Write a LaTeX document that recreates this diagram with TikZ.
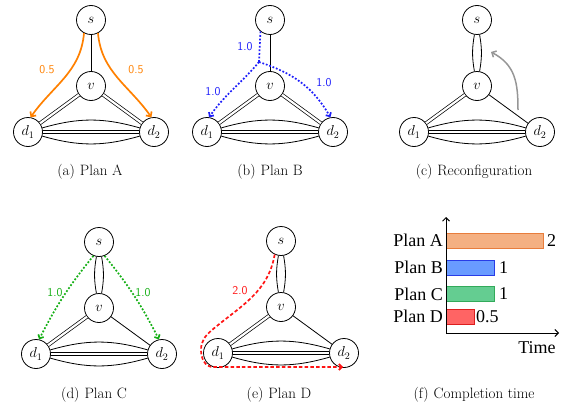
\documentclass[tikz,border=0pt]{standalone}
\usepackage{fontspec}
\newfontfamily\timesfont{Liberation Serif}
\usetikzlibrary{arrows.meta}
\definecolor{cOrange}{RGB}{255,128,0}
\definecolor{cBlue}{RGB}{30,30,250}
\definecolor{cGreen}{RGB}{20,175,20}
\definecolor{cRed}{RGB}{255,20,20}
\definecolor{cGray}{RGB}{150,150,150}
\definecolor{barAf}{RGB}{244,176,130}
\definecolor{barAd}{RGB}{232,125,60}
\definecolor{barBf}{RGB}{105,155,255}
\definecolor{barBd}{RGB}{40,60,230}
\definecolor{barCf}{RGB}{100,205,145}
\definecolor{barCd}{RGB}{50,170,90}
\definecolor{barDf}{RGB}{255,100,100}
\definecolor{barDd}{RGB}{220,30,30}
% #1 prefix, #2 x of v, #3 y of v
\newcommand\placenodes[3]{%
  \node[vert] (#1v) at (#2,#3) {$v$};
  \node[vert] (#1s) at (#2,#3+66) {$s$};
  \node[vert] (#1d1) at (#2-63,#3-46) {$d_1$};
  \node[vert] (#1d2) at (#2+63,#3-46) {$d_2$};
  \draw[dbl] (#1d1) -- (#1d2);
  \draw[lnk] (#1d1) to[bend left=16] (#1d2);
  \draw[lnk] (#1d1) to[bend right=16] (#1d2);
  \draw[dbl] (#1v) -- (#1d1);
}
\newcommand\topoone[1]{%
  \draw[lnk] (#1s) -- (#1v);
  \draw[dbl] (#1v) -- (#1d2);
}
\newcommand\topotwo[1]{%
  \draw[lnk] (#1s) to[bend left=10] (#1v);
  \draw[lnk] (#1s) to[bend right=10] (#1v);
  \draw[lnk] (#1v) -- (#1d2);
}
\begin{document}
\begin{tikzpicture}[x=1pt,y=1pt,
  vert/.style={circle,draw,fill=white,line width=0.8pt,minimum size=29pt,inner sep=0pt,font=\fontsize{14}{14}\selectfont},
  lnk/.style={line width=0.8pt},
  dbl/.style={line width=0.7pt,double,double distance=2.2pt},
  captxt/.style={font=\fontsize{15}{17}\selectfont},
  elbl/.style={font=\sffamily\fontsize{12}{12}\selectfont},
  flowA/.style={draw=cOrange,line width=1.7pt,-{Straight Barb[length=3.5pt,width=7pt]}},
  flowB/.style={draw=cBlue,line width=1.7pt,dash pattern=on 1.8pt off 1.8pt},
  flowC/.style={draw=cGreen,line width=1.7pt,dash pattern=on 1.8pt off 1.8pt},
  flowD/.style={draw=cRed,line width=1.7pt,dash pattern=on 3.5pt off 2.2pt},
  tipB/.style={-{Straight Barb[length=3pt,width=6pt]}},
  barlbl/.style={font=\timesfont\fontsize{18}{18}\selectfont,inner sep=1pt},
  axis/.style={line width=1pt,-{Straight Barb[length=3.5pt,width=7pt]}},
  bar/.style={line width=0.9pt}
]
\useasboundingbox (0,0) rectangle (567,408);

% (a) Plan A
\placenodes{a-}{91}{322}
\topoone{a-}
\draw[flowA] (a-s.-118) to[out=-95,in=55] (a-d1.80);
\draw[flowA] (a-s.-62) to[out=-85,in=125] (a-d2.100);
\node[elbl,text=cOrange] (a-l1) at (47,338) {0.5};
\node[elbl,text=cOrange] (a-l2) at (136,338) {0.5};
\node[captxt] (a-c) at (90,236) {(a)\hspace{5pt}Plan A};

% (b) Plan B
\placenodes{b-}{270}{322}
\topoone{b-}
\coordinate (b-j) at (259,346);
\draw[flowB] (b-s.-130) -- (b-j);
\draw[flowB,tipB] (b-j) to[out=-130,in=55] (b-d1.82);
\draw[flowB,tipB] (b-j) to[out=-18,in=120] (b-d2.100);
\node[elbl,text=cBlue] (b-l0) at (245,361) {1.0};
\node[elbl,text=cBlue] (b-l1) at (213,316) {1.0};
\node[elbl,text=cBlue] (b-l2) at (324,325) {1.0};
\node[captxt] (b-c) at (270,236) {(b)\hspace{5pt}Plan B};

% (c) Reconfiguration
\placenodes{c-}{477}{322}
\topotwo{c-}
\coordinate (c-g0) at (518,298);
\coordinate (c-g1) at (491,356);
\draw[draw=cGray,line width=1.5pt,-{Straight Barb[length=3.5pt,width=7pt]}] (c-g0) to[out=90,in=-28,looseness=1.1] (c-g1);
\node[captxt] (c-c) at (474,236) {(c)\hspace{5pt}Reconfiguration};

% (d) Plan C
\placenodes{d-}{99}{100}
\topotwo{d-}
\draw[flowC,tipB] (d-s.-112) to[bend right=6] (d-d1.78);
\draw[flowC,tipB] (d-s.-68) to[bend left=6] (d-d2.102);
\node[elbl,text=cGreen] (d-l1) at (55,115) {1.0};
\node[elbl,text=cGreen] (d-l2) at (143,115) {1.0};
\node[captxt] (d-c) at (94,13) {(d)\hspace{5pt}Plan C};

% (e) Plan D
\placenodes{e-}{281}{101}
\topotwo{e-}
\coordinate (e-p1) at (212,78);
\coordinate (e-p2) at (201,58);
\coordinate (e-p3) at (213,41);
\coordinate (e-p4) at (343,41);
\draw[flowD,tipB] (e-s.-115) to[out=-100,in=40] (e-p1) to[out=-140,in=90] (e-p2) to[out=-90,in=180] (e-p3) -- (e-p4);
\node[elbl,text=cRed] (e-l1) at (240,117) {2.0};
\node[captxt] (e-c) at (279,13) {(e)\hspace{5pt}Plan D};

% (f) Completion time
\coordinate (f-o) at (446,75);
\coordinate (f-yt) at (446,191);
\coordinate (f-xt) at (559,75);
\draw[bar,fill=barAf,draw=barAd] (446.5,160) rectangle (543,175);
\draw[bar,fill=barBf,draw=barBd] (446.5,133) rectangle (494,148);
\draw[bar,fill=barCf,draw=barCd] (446.5,106.5) rectangle (494,121.5);
\draw[bar,fill=barDf,draw=barDd] (446.5,84) rectangle (474,99);
\draw[axis] (f-o) -- (f-yt);
\draw[axis] (f-o) -- (f-xt);
\node[barlbl,anchor=east] (f-pa) at (444,167.5) {Plan A};
\node[barlbl,anchor=east] (f-pb) at (444,140.5) {Plan B};
\node[barlbl,anchor=east] (f-pc) at (444,114) {Plan C};
\node[barlbl,anchor=east] (f-pd) at (444,91.5) {Plan D};
\node[barlbl,anchor=west] (f-na) at (546,167.5) {2};
\node[barlbl,anchor=west] (f-nb) at (498,140.5) {1};
\node[barlbl,anchor=west] (f-nc) at (498,114) {1};
\node[barlbl,anchor=west] (f-nd) at (475,91.5) {0.5};
\node[barlbl] (f-t) at (537,60) {Time};
\node[captxt] (f-c) at (474,13) {(f)\hspace{5pt}Completion time};
\end{tikzpicture}
\end{document}
